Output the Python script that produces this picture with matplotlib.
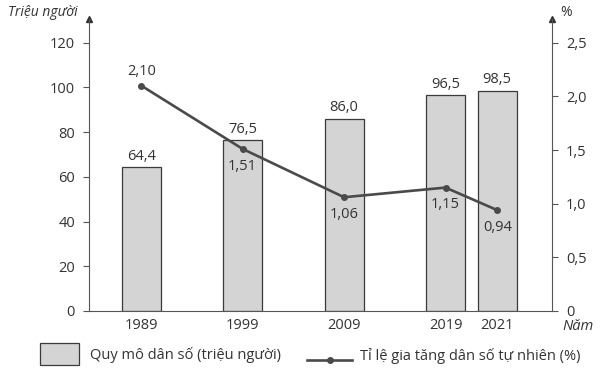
import matplotlib
matplotlib.use("Agg")
import matplotlib.pyplot as plt
from matplotlib.patches import Rectangle
from matplotlib.lines import Line2D

plt.rcParams['font.family'] = ['Open Sans', 'DejaVu Sans']

years = ['1989', '1999', '2009', '2019', '2021']
population = [64.4, 76.5, 86.0, 96.5, 98.5]
growth = [2.10, 1.51, 1.06, 1.15, 0.94]
pop_labels = ['64,4', '76,5', '86,0', '96,5', '98,5']
growth_labels = ['2,10', '1,51', '1,06', '1,15', '0,94']

# layout: slot for each year on the x axis (2021 squeezed next to 2019)
xpos = [0, 1, 2, 3, 3.51]
label_above = [True, False, False, False, False]

bar_color = '#d4d4d4'
edge_color = '#3a3a3a'
line_color = '#4a4a4a'
fs = 10.5

fig = plt.figure(figsize=(6.01, 3.77), dpi=100)
ax = fig.add_axes([89/601, 1 - 311/377, (552 - 89)/601, (311 - 19)/377])
ax2 = ax.twinx()

ax.bar(xpos, population, width=0.385, color=bar_color, edgecolor=edge_color, linewidth=0.9, zorder=2)
for x, v, t in zip(xpos, population, pop_labels):
    ax.text(x, v + 1.5, t, ha='center', va='bottom', fontsize=fs, color='#333333')

ymax = 130.6
ax.set_ylim(0, ymax)
ax2.set_ylim(0, ymax * 2.5 / 120)
ax.set_xlim(-0.515, 4.05)

ax2.plot(xpos, growth, color=line_color, linewidth=1.9, marker='o', markersize=4, zorder=3)
for x, v, t, up in zip(xpos, growth, growth_labels, label_above):
    if up:
        ax2.text(x, v + 0.06, t, ha='center', va='bottom', fontsize=fs, color='#333333')
    else:
        ax2.text(x, v - 0.09, t, ha='center', va='top', fontsize=fs, color='#333333')

ax.set_yticks([0, 20, 40, 60, 80, 100, 120])
ax2.set_yticks([0, 0.5, 1.0, 1.5, 2.0, 2.5])
ax2.set_yticklabels(['0', '0,5', '1,0', '1,5', '2,0', '2,5'])
ax.set_xticks(xpos)
ax.set_xticklabels(years)

for a in (ax, ax2):
    a.spines['top'].set_visible(False)
    a.tick_params(axis='y', length=4, width=0.8, color='#555555', labelsize=fs, labelcolor='#333333', pad=6)
ax.tick_params(axis='x', length=0, labelsize=fs, labelcolor='#333333', pad=5)
ax.spines['right'].set_visible(False)
ax2.spines['left'].set_visible(False)
ax.spines['left'].set_color('#555555')
ax2.spines['right'].set_color('#555555')
ax.spines['bottom'].set_color('#555555')
ax2.spines['bottom'].set_visible(False)

# arrow heads on the vertical axes
ax.plot(0, 1, '^', transform=ax.transAxes, color='#333333', markersize=5, clip_on=False)
ax2.plot(1, 1, '^', transform=ax2.transAxes, color='#333333', markersize=5, clip_on=False)

fig.text(8/601, 1 - 12/377, 'Triệu người', fontsize=fs - 0.5, style='italic', color='#333333', va='center')
fig.text(560/601, 1 - 12/377, '%', fontsize=fs - 0.5, color='#333333', va='center')
fig.text(562/601, 1 - 327/377, 'Năm', fontsize=fs, style='italic', color='#333333', va='center')

# legend
fig.patches.append(Rectangle((40/601, 1 - 365/377), 39/601, 22/377, transform=fig.transFigure,
                             facecolor=bar_color, edgecolor=edge_color, linewidth=0.9))
fig.text(90/601, 1 - 355/377, 'Quy mô dân số (triệu người)', fontsize=fs, color='#333333', va='center')
fig.lines.append(Line2D([307/601, 352/601], [1 - 360/377, 1 - 360/377], transform=fig.transFigure,
                        color=line_color, linewidth=1.9))
fig.lines.append(Line2D([329.5/601], [1 - 360/377], transform=fig.transFigure,
                        color=line_color, marker='o', markersize=4, linestyle='none'))
fig.text(360/601, 1 - 356/377, 'Tỉ lệ gia tăng dân số tự nhiên (%)', fontsize=fs, color='#333333', va='center')

fig.savefig('out.png', dpi=100)
